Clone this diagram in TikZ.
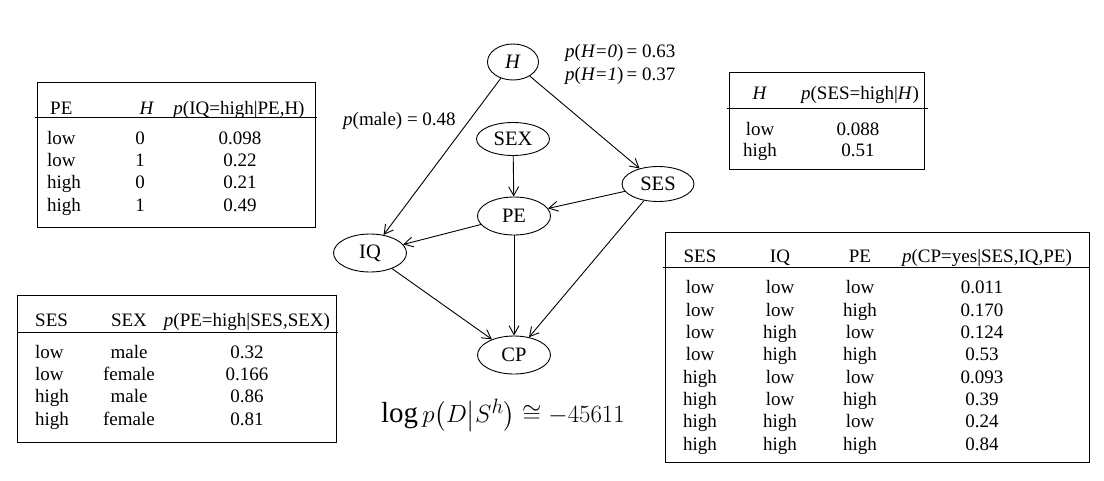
\documentclass[tikz,border=0pt]{standalone}
\usepackage{fontspec}
\setmainfont{Liberation Serif}
\usepackage{amsmath}
\usetikzlibrary{arrows.meta,positioning,shapes.geometric}
\newcommand{\tabfont}{\fontsize{19}{22.3}\selectfont}
\newcommand{\varfont}{\fontsize{20.5}{24}\selectfont}

\begin{document}
\begin{tikzpicture}[x=1pt,y=-1pt,
  var/.style={draw,ellipse,line width=0.9pt,minimum width=73pt,minimum height=38pt,inner sep=0pt,font=\varfont},
  link/.style={line width=0.9pt,-{Straight Barb[length=9pt,width=10pt]}},
  frame/.style={draw,line width=0.9pt},
  col/.style={align=center,inner sep=0pt,anchor=base,font=\tabfont},
  lcol/.style={col,align=left,anchor=base west},
  lab/.style={inner sep=0pt,anchor=base west,font=\tabfont}]
\useasboundingbox (0,0) rectangle (1104,480);
% network
\node[var,minimum width=51pt,minimum height=36pt] (H) at (513,62) {\textit{H}};
\node[var,minimum height=33pt] (SEX) at (513,139) {SEX};
\node[var,minimum width=72pt,minimum height=35pt] (SES) at (658,184) {SES};
\node[var] (PE) at (514,216) {PE};
\node[var] (IQ) at (370,253) {IQ};
\node[var] (CP) at (514,355) {CP};
\draw[link] (H) -- (IQ);
\draw[link] (H) -- (SES);
\draw[link] (SEX) -- (PE);
\draw[link] (SES) -- (PE);
\draw[link] (PE) -- (IQ);
\draw[link] (IQ) -- (CP);
\draw[link] (PE) -- (CP);
\draw[link] (SES) -- (CP);
\node[lab] (pH0) at (565,57) {\textit{p}(\textit{H=0})\,= 0.63};
\node[lab] (pH1) at (565,80) {\textit{p}(\textit{H=1})\,= 0.37};
\node[lab] (pmale) at (343,125) {\textit{p}(male) = 0.48};
% p(IQ | PE,H), last row at the base
\draw[frame] (37,82) rectangle (315,227);
\draw[frame] (35,117) -- (317,117);
\node[lab] (iqh1) at (50,114) {PE};
\node[col] (iqh2) at (147,114) {\textit{H}};
\node[col] (iqh3) at (239,114) {\textit{p}(IQ=high|PE,H)};
\node[lcol] (iqc1) at (47,211) {low\\low\\high\\high};
\node[col] (iqc2) at (140,211) {0\\1\\0\\1};
\node[col] (iqc3) at (240,211) {0.098\\0.22\\0.21\\0.49};
% p(SES | H)
\draw[frame] (729,72) rectangle (924,169);
\draw[frame] (727,108) -- (928,108);
\node[col] (sesh1) at (760,99) {\textit{H}};
\node[col] (sesh2) at (860,99) {\textit{p}(SES=high|\textit{H})};
\node[col,font=\fontsize{19}{21}\selectfont] (sesc1) at (760,156) {low\\high};
\node[col,font=\fontsize{19}{21}\selectfont] (sesc2) at (858,156) {0.088\\0.51};
% p(PE | SES,SEX)
\draw[frame] (17,295) rectangle (336,442);
\draw[frame] (17,332) -- (338,332);
\node[lab] (peh1) at (35,326) {SES};
\node[col] (peh2) at (129,326) {SEX};
\node[col] (peh3) at (247,326) {\textit{p}(PE=high|SES,SEX)};
\node[lcol] (pec1) at (35,425) {low\\low\\high\\high};
\node[col] (pec2) at (129,425) {male\\female\\male\\female};
\node[col] (pec3) at (247,425) {0.32\\0.166\\0.86\\0.81};
% p(CP | SES,IQ,PE)
\draw[frame] (665,232) rectangle (1089,462);
\draw[frame] (663,267) -- (1089,267);
\node[col] (cph1) at (700,262) {SES};
\node[col] (cph2) at (780,262) {IQ};
\node[col] (cph3) at (860,262) {PE};
\node[col] (cph4) at (987,262) {\textit{p}(CP=yes|SES,IQ,PE)};
\node[col] (cpc1) at (700,450) {low\\low\\low\\low\\high\\high\\high\\high};
\node[col] (cpc2) at (780,450) {low\\low\\high\\high\\low\\low\\high\\high};
\node[col] (cpc3) at (860,450) {low\\high\\low\\high\\low\\high\\low\\high};
\node[col] (cpc4) at (982,450) {0.011\\0.170\\0.124\\0.53\\0.093\\0.39\\0.24\\0.84};
% score
\node[font=\fontsize{29}{34}\selectfont] (score) at (503,415) {$\log p\big(D\big|S^h\big)\cong-45611$};
\end{tikzpicture}
\end{document}
